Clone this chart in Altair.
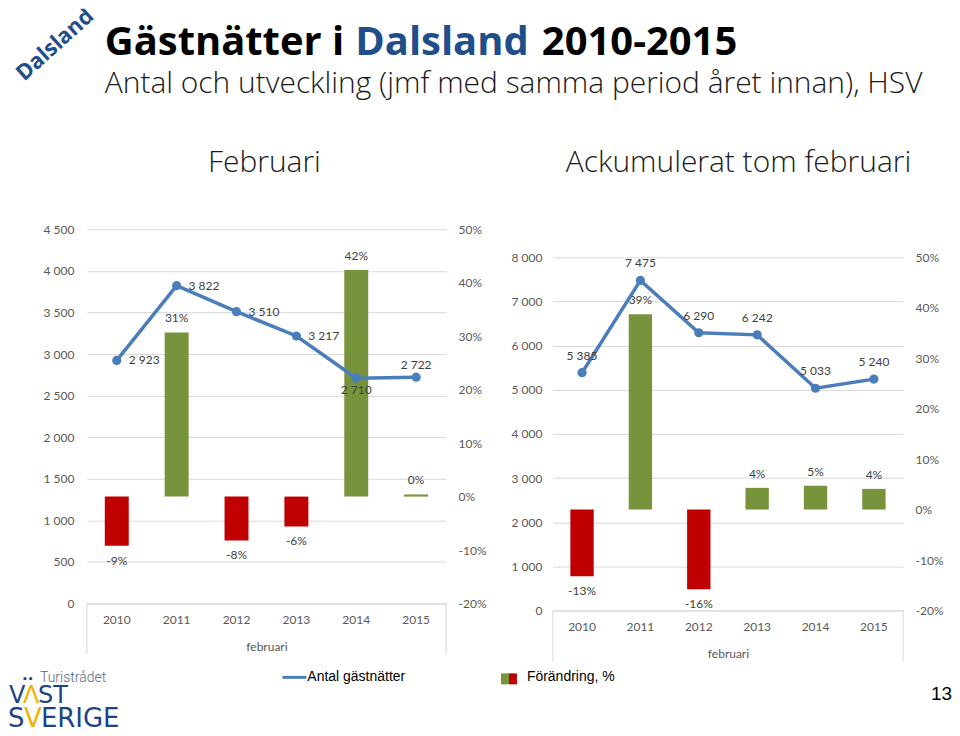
import altair as alt
import pandas as pd

# ---------------- data ----------------
years = ["2010", "2011", "2012", "2013", "2014", "2015"]
feb_nights = [2923, 3822, 3510, 3217, 2710, 2722]
feb_change = [-9.2, 30.7, -8.2, -5.6, 42.4, 0.4]
acc_nights = [5385, 7475, 6290, 6242, 5033, 5240]
acc_change = [-13.2, 38.7, -15.8, 4.3, 4.7, 4.1]

feb_ticks = [0, 500, 1000, 1500, 2000, 2500, 3000, 3500, 4000, 4500]
acc_ticks = [0, 1000, 2000, 3000, 4000, 5000, 6000, 7000, 8000]
pct_ticks = [-20, -10, 0, 10, 20, 30, 40, 50]

main_title = ["Gästnätter i", "Dalsland", "2010-2015"]
subtitle = "Antal och utveckling (jmf med samma period året innan), HSV"
panel_titles = ["Februari", "Ackumulerat tom februari"]
axis_title = "februari"
legend_labels = ["Antal gästnätter", "Förändring, %"]
page_number = "13"

# ---------------- style ----------------
BLUE = "#4a7ebb"
GREEN = "#77933c"
RED = "#c00000"
GRID = "#d9d9d9"
AXIS_TXT = "#595959"
LABEL_TXT = "#404040"
FONT = "Lato"
TFONT = "Open Sans"

ONE = pd.DataFrame({"_": [0]})


def fmt_int(v):
    return f"{v:,}".replace(",", " ")


def txt(s, x, y, size, color="#000000", weight="normal", font=TFONT,
        align="left", baseline="alphabetic", angle=None, clip=False):
    props = dict(text=s, fontSize=size, color=color, fontWeight=weight,
                 font=font, align=align, baseline=baseline)
    if angle is not None:
        props["angle"] = angle
    if clip:
        props["clip"] = True
    return alt.Chart(ONE).mark_text(**props).encode(x=alt.value(x), y=alt.value(y))


def panel(nights, change, ticks, width, height, left_pad, label_groups):
    df = pd.DataFrame({"year": years, "nights": nights, "change": change})
    df["nights_label"] = [fmt_int(v) for v in nights]
    df["change_label"] = [f"{round(v)}%" for v in change]
    base = alt.Chart(df)

    xs = alt.Scale(paddingInner=0, paddingOuter=0)
    xa = alt.Axis(title=axis_title, labelAngle=0, ticks=False, tickSize=0, domainColor=GRID,
                  labelPadding=11, titlePadding=16, labelFont=FONT, labelFontSize=12,
                  labelColor=AXIS_TXT, titleFont=FONT, titleFontSize=12, titleColor=AXIS_TXT,
                  titleFontWeight="normal", grid=False)
    X = alt.X("year:N", scale=xs, axis=xa)

    yc_scale = alt.Scale(domain=[pct_ticks[0], pct_ticks[-1]], nice=False)
    yc_axis = alt.Axis(orient="right", values=pct_ticks, labelExpr="datum.value + '%'",
                       grid=False, domain=False, ticks=False, tickSize=0, labelPadding=12,
                       title=None, labelFont=FONT, labelFontSize=12, labelColor=AXIS_TXT)
    Yc = alt.Y("change:Q", scale=yc_scale, axis=yc_axis)

    bars = base.mark_bar(width=alt.RelativeBandSize(0.4)).encode(
        x=X, y=Yc, y2=alt.datum(0),
        color=alt.when("datum.change >= 0").then(alt.value(GREEN)).otherwise(alt.value(RED)),
    )
    lab = dict(font=FONT, fontSize=12, color=LABEL_TXT, baseline="middle")
    pos_lab = base.transform_filter("datum.change >= 0").mark_text(dy=-14, **lab).encode(
        x=X, y=Yc, text="change_label:N")
    neg_lab = base.transform_filter("datum.change < 0").mark_text(dy=15, **lab).encode(
        x=X, y=Yc, text="change_label:N")

    yn_scale = alt.Scale(domain=[ticks[0], ticks[-1]], nice=False)
    yn_axis = alt.Axis(orient="left", values=ticks,
                       labelExpr="replace(format(datum.value, ','), ',', ' ')",
                       grid=True, gridColor=GRID, gridWidth=1, domain=False, ticks=False,
                       tickSize=0, labelPadding=left_pad, title=None, labelFont=FONT,
                       labelFontSize=12, labelColor=AXIS_TXT)
    Yn = alt.Y("nights:Q", scale=yn_scale, axis=yn_axis)
    line = base.mark_line(color=BLUE, strokeWidth=3.5).encode(x=X, y=Yn)
    dots = base.mark_circle(color=BLUE, size=85, opacity=1).encode(x=X, y=Yn)
    nlabs = []
    for yrs, dx, dy, al in label_groups:
        nlabs.append(
            base.transform_filter(alt.FieldOneOfPredicate(field="year", oneOf=yrs))
            .mark_text(dx=dx, dy=dy, align=al, **lab)
            .encode(x=X, y=Yn, text="nights_label:N")
        )

    edge_l = base.transform_filter(f"datum.year == '{years[0]}'").mark_rule(color=GRID).encode(
        x=alt.X("year:N", scale=xs, axis=xa, bandPosition=0),
        y=alt.value(height), y2=alt.value(height + 51))
    edge_r = base.transform_filter(f"datum.year == '{years[-1]}'").mark_rule(color=GRID).encode(
        x=alt.X("year:N", scale=xs, axis=xa, bandPosition=1),
        y=alt.value(height), y2=alt.value(height + 51))

    bar_group = alt.layer(bars, pos_lab, neg_lab)
    line_group = alt.layer(line, dots, *nlabs)
    return (
        alt.layer(bar_group, line_group, edge_l, edge_r)
        .resolve_scale(y="independent")
        .properties(width=width, height=height)
    )


left = panel(feb_nights, feb_change, feb_ticks, 360, 375, 13,
             [(years[0:4], 12, 0, "left"), ([years[4]], 0, 12, "center"),
              ([years[5]], 0, -12, "center")])
right = panel(acc_nights, acc_change, acc_ticks, 351, 354, 11,
              [(years, 0, -17, "center")])


def spacer(w, h=10):
    return alt.Chart(ONE).mark_point(opacity=0, size=1).properties(width=w, height=h)


row = alt.hconcat(
    spacer(35), left, spacer(25),
    alt.vconcat(spacer(20, 22), right, spacing=0),
    spacing=0,
)

# ---------------- header ----------------
HH = 215
TBLUE = "#1f4e8a"
header = alt.layer(
    txt("Dalsland", 47, 36, 22, color=TBLUE, weight="bold", align="center",
        baseline="middle", angle=318, clip=True),
    txt(main_title[0], 97, 46, 40, weight="bold"),
    txt(main_title[1], 348, 46, 40, color=TBLUE, weight="bold"),
    txt(main_title[2], 535, 46, 40, weight="bold"),
    txt(subtitle, 97, 84, 30, color="#1a1a1a", weight=300),
    txt(panel_titles[0], 257, 164, 30, color="#1a1a1a", weight=300, align="center"),
    txt(panel_titles[1], 732, 164, 30, color="#1a1a1a", weight=300, align="center"),
).properties(width=944, height=HH)

# ---------------- footer ----------------
FH = 74
LOGO_BLUE = "#1d4386"
YELLOW = "#f0b400"
footer = alt.layer(
    alt.Chart(ONE).mark_rule(color=BLUE, strokeWidth=3).encode(
        x=alt.value(275), x2=alt.value(299), y=alt.value(15)),
    txt(legend_labels[0], 300, 15, 14, font="Liberation Sans", baseline="middle"),
    alt.Chart(ONE).mark_rect(color=GREEN).encode(
        x=alt.value(494), x2=alt.value(502), y=alt.value(11), y2=alt.value(22)),
    alt.Chart(ONE).mark_rect(color=RED).encode(
        x=alt.value(502), x2=alt.value(510), y=alt.value(11), y2=alt.value(22)),
    txt(legend_labels[1], 520, 15, 14, font="Liberation Sans", baseline="middle"),
    txt(page_number, 946, 38, 19, font="Liberation Sans", align="right"),
    txt("••", 14, 20, 9, color=LOGO_BLUE, font="DejaVu Sans", weight="bold"),
    txt("Turistrådet", 32, 20, 14, color="#5a6a80", font="Roboto", weight=300),
    txt("V", 1, 41, 24, color=LOGO_BLUE, font="DejaVu Sans"),
    txt("Λ", 15, 41, 24, color=YELLOW, font="DejaVu Sans"),
    txt("ST", 30, 41, 24, color=LOGO_BLUE, font="DejaVu Sans"),
    txt("S", 0, 65, 26, color=LOGO_BLUE, font="DejaVu Sans"),
    txt("V", 16, 65, 26, color=YELLOW, font="DejaVu Sans"),
    txt("ERIGE", 33, 65, 26, color=LOGO_BLUE, font="DejaVu Sans"),
).properties(width=944, height=FH)

chart = (
    alt.vconcat(header, row, footer, spacing=0)
    .properties(padding=0)
    .configure_view(stroke=None)
)

chart.save("out.html", embed_options={"renderer": "svg", "actions": False})
